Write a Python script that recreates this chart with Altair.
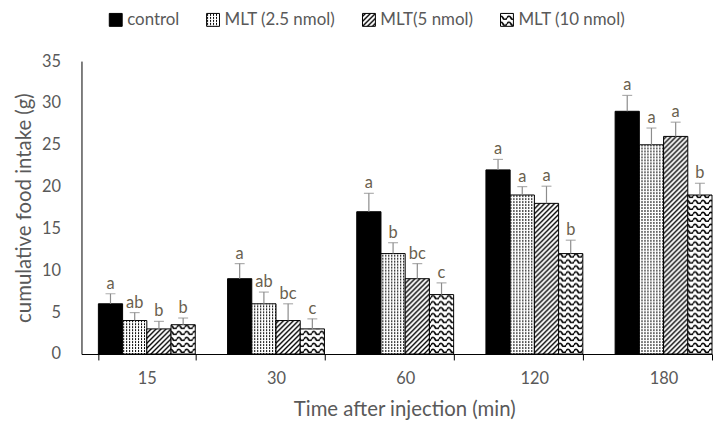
import altair as alt
import pandas as pd

# ---- data ----
times = ["15", "30", "60", "120", "180"]
series = ["control", "MLT (2.5 nmol)", "MLT(5 nmol)", "MLT (10 nmol)"]

control = [6.0, 9.0, 17.0, 22.0, 29.0]
mlt25 = [4.0, 6.0, 12.0, 19.0, 25.0]
mlt5 = [3.0, 4.0, 9.0, 18.0, 26.0]
mlt10 = [3.5, 3.0, 7.1, 12.0, 19.0]

control_err = [1.2, 1.8, 2.2, 1.25, 1.9]
mlt25_err = [0.95, 1.4, 1.3, 1.0, 2.0]
mlt5_err = [0.9, 2.0, 1.8, 2.05, 1.7]
mlt10_err = [0.8, 1.2, 1.4, 1.6, 1.4]

control_let = ["a", "a", "a", "a", "a"]
mlt25_let = ["ab", "ab", "b", "a", "a"]
mlt5_let = ["b", "bc", "bc", "a", "a"]
mlt10_let = ["b", "c", "c", "b", "b"]

fills = ["#000000", "url(#p25)", "url(#p5)", "url(#p10)"]

rows = []
for s, vals, errs, lets in zip(
    series,
    [control, mlt25, mlt5, mlt10],
    [control_err, mlt25_err, mlt5_err, mlt10_err],
    [control_let, mlt25_let, mlt5_let, mlt10_let],
):
    for t, v, e, l in zip(times, vals, errs, lets):
        rows.append({"time": t, "series": s, "value": v, "top": v + e, "letter": l})
df = pd.DataFrame(rows)

FONT = "Lato"
TXT = "#595959"

base = alt.Chart(df).encode(
    x=alt.X(
        "time:N",
        sort=times,
        scale=alt.Scale(paddingInner=0.25, paddingOuter=0.0654, align=1),
        axis=alt.Axis(
            title="Time after injection (min)",
            titleX=325,
            titleAlign="center",
            labelAngle=0,
            tickBand="extent",
            domainColor="black",
            tickColor="black",
            tickSize=6,
            labelPadding=11,
            labelFontSize=16.5,
            labelColor=TXT,
            labelFont=FONT,
            titleFont=FONT,
            titleFontSize=20.5,
            titleFontWeight="normal",
            titleColor=TXT,
            titlePadding=12,
            grid=False,
        ),
    ),
    xOffset=alt.XOffset("series:N", sort=series, scale=alt.Scale(paddingInner=0, paddingOuter=0)),
)

bars = base.mark_bar(stroke="black", strokeWidth=1).encode(
    y=alt.Y(
        "value:Q",
        scale=alt.Scale(domain=[0, 35], nice=False),
        axis=alt.Axis(
            title="cumulative food intake (g)",
            values=list(range(0, 36, 5)),
            ticks=False,
            tickSize=0,
            grid=False,
            domainColor="black",
            labelPadding=21,
            labelFontSize=16.5,
            labelColor=TXT,
            labelFont=FONT,
            titleFont=FONT,
            titleFontSize=20.5,
            titleFontWeight="normal",
            titleColor=TXT,
            titlePadding=7,
        ),
    ),
    color=alt.Color(
        "series:N",
        sort=series,
        scale=alt.Scale(domain=series, range=fills),
        legend=alt.Legend(
            title=None,
            orient="none",
            direction="horizontal",
            legendX=26,
            legendY=-50,
            symbolType="square",
            symbolSize=169,
            symbolStrokeColor="black",
            symbolStrokeWidth=1,
            symbolOpacity=1,
            labelFont=FONT,
            labelFontSize=17,
            labelColor=TXT,
            labelOffset=3,
            labelLimit=200,
            columnPadding=25,
        ),
    ),
)

rules = base.mark_rule(color="#8c8c8c", strokeWidth=1.2).encode(
    y=alt.Y("value:Q"), y2=alt.Y2("top:Q")
)
caps = base.mark_tick(color="#8c8c8c", thickness=1.2, size=10).encode(y=alt.Y("top:Q"))
letters = base.mark_text(
    baseline="alphabetic", dy=-5, fontSize=16.5, font=FONT, color="#6a5f4e"
).encode(y=alt.Y("top:Q"), text="letter:N")

chart = (
    alt.layer(bars, rules, caps, letters)
    .properties(
        width=635,
        height=295,
        padding={"left": 6, "top": 2, "right": 0, "bottom": 0},
        background="white",
    )
    .configure_view(stroke=None)
)

DEFS = """<svg width="0" height="0" style="position:absolute;left:0;top:0" aria-hidden="true"><defs>
<pattern id="p25" patternUnits="userSpaceOnUse" width="3" height="3">
<rect width="3" height="3" fill="white"/>
<rect x="0" y="0" width="1" height="2" fill="black"/>
</pattern>
<pattern id="p5" patternUnits="userSpaceOnUse" width="5" height="5">
<rect width="5" height="5" fill="white"/>
<path d="M-1,1 L1,-1 M0,5 L5,0 M4,6 L6,4" stroke="black" stroke-width="1.4"/>
</pattern>
<pattern id="p10" patternUnits="userSpaceOnUse" width="8" height="6">
<rect width="8" height="6" fill="white"/>
<path d="M0,4 Q2,0.5 4,4 T8,4" fill="none" stroke="black" stroke-width="1.7"/>
</pattern>
</defs></svg>"""

try:
    from altair.utils.html import TEMPLATES
    _BASE = TEMPLATES["standard"]
except Exception:
    from altair.utils.html import HTML_TEMPLATE as _BASE


class PatternTemplate:
    def render(self, **kw):
        html = _BASE.render(**kw)
        if "<body>" in html:
            return html.replace("<body>", "<body>" + DEFS, 1)
        return DEFS + html


try:
    chart.save("out.html", embed_options={"renderer": "svg", "actions": False}, template=PatternTemplate())
except TypeError:
    chart.save("out.html", embed_options={"renderer": "svg", "actions": False})
